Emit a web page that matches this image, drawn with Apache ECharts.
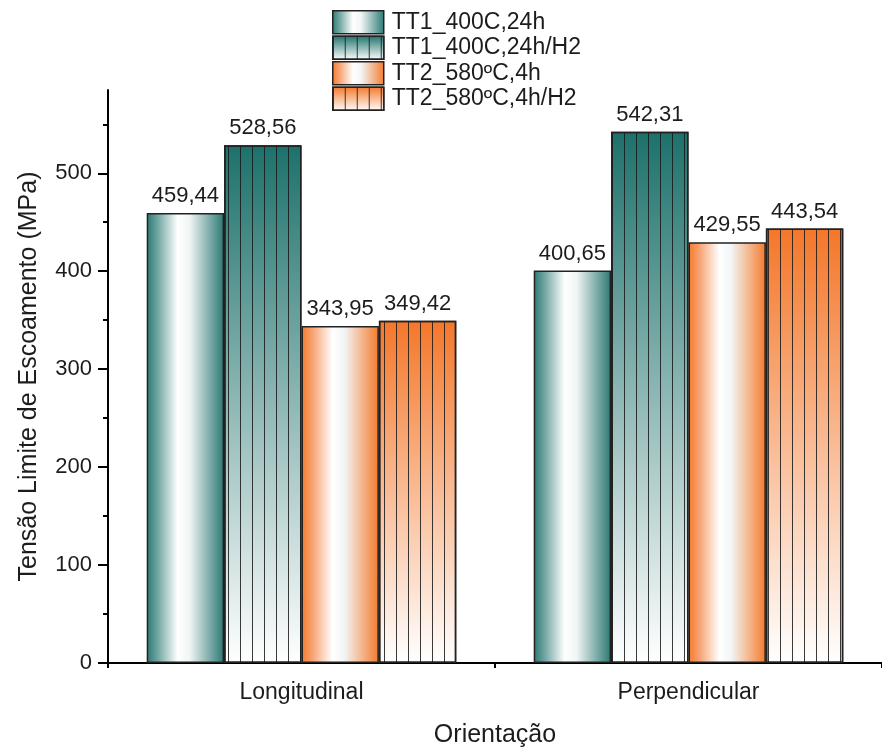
<!DOCTYPE html>
<html>
<head>
<meta charset="utf-8">
<script src="https://cdn.jsdelivr.net/npm/echarts@6/dist/echarts.min.js"></script>
<style>html,body{margin:0;padding:0;background:#fff;}#chart{width:882px;height:754px;}</style>
</head>
<body>
<div id="chart"></div>
<script>
const categories = ['Longitudinal', 'Perpendicular'];
const seriesNames = ['TT1_400C,24h', 'TT1_400C,24h/H2', 'TT2_580ºC,4h', 'TT2_580ºC,4h/H2'];
const tt1 = [459.44, 400.65];
const tt1H2 = [528.56, 542.31];
const tt2 = [343.95, 429.55];
const tt2H2 = [349.42, 443.54];
const yTicks = [0, 100, 200, 300, 400, 500];
const yMinorTicks = [50, 150, 250, 350, 450, 550];

const txt = '#1c1c1c';
const font = 'Arial, "Liberation Sans", sans-serif';

function hGrad(c1, c2) {
  return new echarts.graphic.LinearGradient(0, 0, 1, 0, [
    {offset: 0, color: c1},
    {offset: 0.14, color: c2},
    {offset: 0.4, color: '#ffffff'},
    {offset: 0.55, color: '#f2f6f6'},
    {offset: 1, color: c1}
  ]);
}
function vGrad(c1) {
  return new echarts.graphic.LinearGradient(0, 0, 0, 1, [
    {offset: 0, color: c1},
    {offset: 1, color: '#ffffff'}
  ]);
}
const lineDecal = {
  symbol: 'rect',
  symbolSize: 1,
  color: 'rgba(25,25,25,0.85)',
  dashArrayX: [1, 10.5],
  dashArrayY: [10, 0],
  rotation: 0
};

function makeSeries(name, data, color, decal) {
  const s = {
    name: name,
    type: 'bar',
    data: data,
    barGap: '0%',
    barCategoryGap: '20%',
    itemStyle: {color: color, borderColor: '#222', borderWidth: 1.5},
    label: {
      show: true, position: 'top', distance: 6,
      fontSize: 22, color: txt, fontFamily: font,
      formatter: p => p.value.toFixed(2).replace('.', ',')
    },
    emphasis: {disabled: true}
  };
  if (decal) s.itemStyle.decal = decal;
  return s;
}

const chart = echarts.init(document.getElementById('chart'));
chart.setOption({
  animation: false,
  textStyle: {fontFamily: font},
  legend: {
    orient: 'vertical', left: 332, top: 10, padding: 0,
    itemWidth: 51, itemHeight: 23, itemGap: 1,
    icon: 'rect',
    data: seriesNames,
    itemStyle: {borderColor: '#222', borderWidth: 1.5},
    textStyle: {fontSize: 23, color: txt, lineHeight: 23, padding: [0, 0, 0, 3]}
  },
  grid: {left: 108, right: -6, top: 90, bottom: 91, containLabel: false},
  xAxis: [{
    type: 'category', data: categories,
    axisLine: {lineStyle: {color: '#000', width: 2}},
    axisTick: {alignWithLabel: true, length: 10, lineStyle: {color: '#000', width: 2}},
    axisLabel: {fontSize: 23, color: txt, margin: 18},
    name: 'Orientação', nameLocation: 'middle', nameGap: 60,
    nameTextStyle: {fontSize: 25, color: txt}
  }, {
    type: 'value', min: 0, max: 2, interval: 1, position: 'bottom',
    axisLine: {show: false},
    axisTick: {show: true, length: 5, lineStyle: {color: '#000', width: 2}},
    axisLabel: {show: false}, splitLine: {show: false}
  }],
  yAxis: [{
    type: 'value', min: 0, max: 585, interval: 100,
    axisLine: {show: true, lineStyle: {color: '#000', width: 2}},
    axisTick: {show: true, length: 10, customValues: yTicks, lineStyle: {color: '#000', width: 2}},
    axisLabel: {fontSize: 22, color: txt, margin: 16, customValues: yTicks},
    splitLine: {show: false},
    name: 'Tensão Limite de Escoamento (MPa)', nameLocation: 'middle', nameGap: 66,
    nameTextStyle: {fontSize: 25, color: txt}
  }, {
    type: 'value', min: 0, max: 585, position: 'left',
    axisLine: {show: false},
    axisTick: {show: true, length: 5, customValues: yMinorTicks, lineStyle: {color: '#000', width: 2}},
    axisLabel: {show: false}, splitLine: {show: false}
  }],
  series: [
    makeSeries(seriesNames[0], tt1, hGrad('#2b7873', '#6fa5a1'), null),
    makeSeries(seriesNames[1], tt1H2, vGrad('#1d716b'), lineDecal),
    makeSeries(seriesNames[2], tt2, hGrad('#f47a2c', '#f7a272'), null),
    makeSeries(seriesNames[3], tt2H2, vGrad('#f4772a'), lineDecal)
  ]
});
</script>
</body>
</html>
